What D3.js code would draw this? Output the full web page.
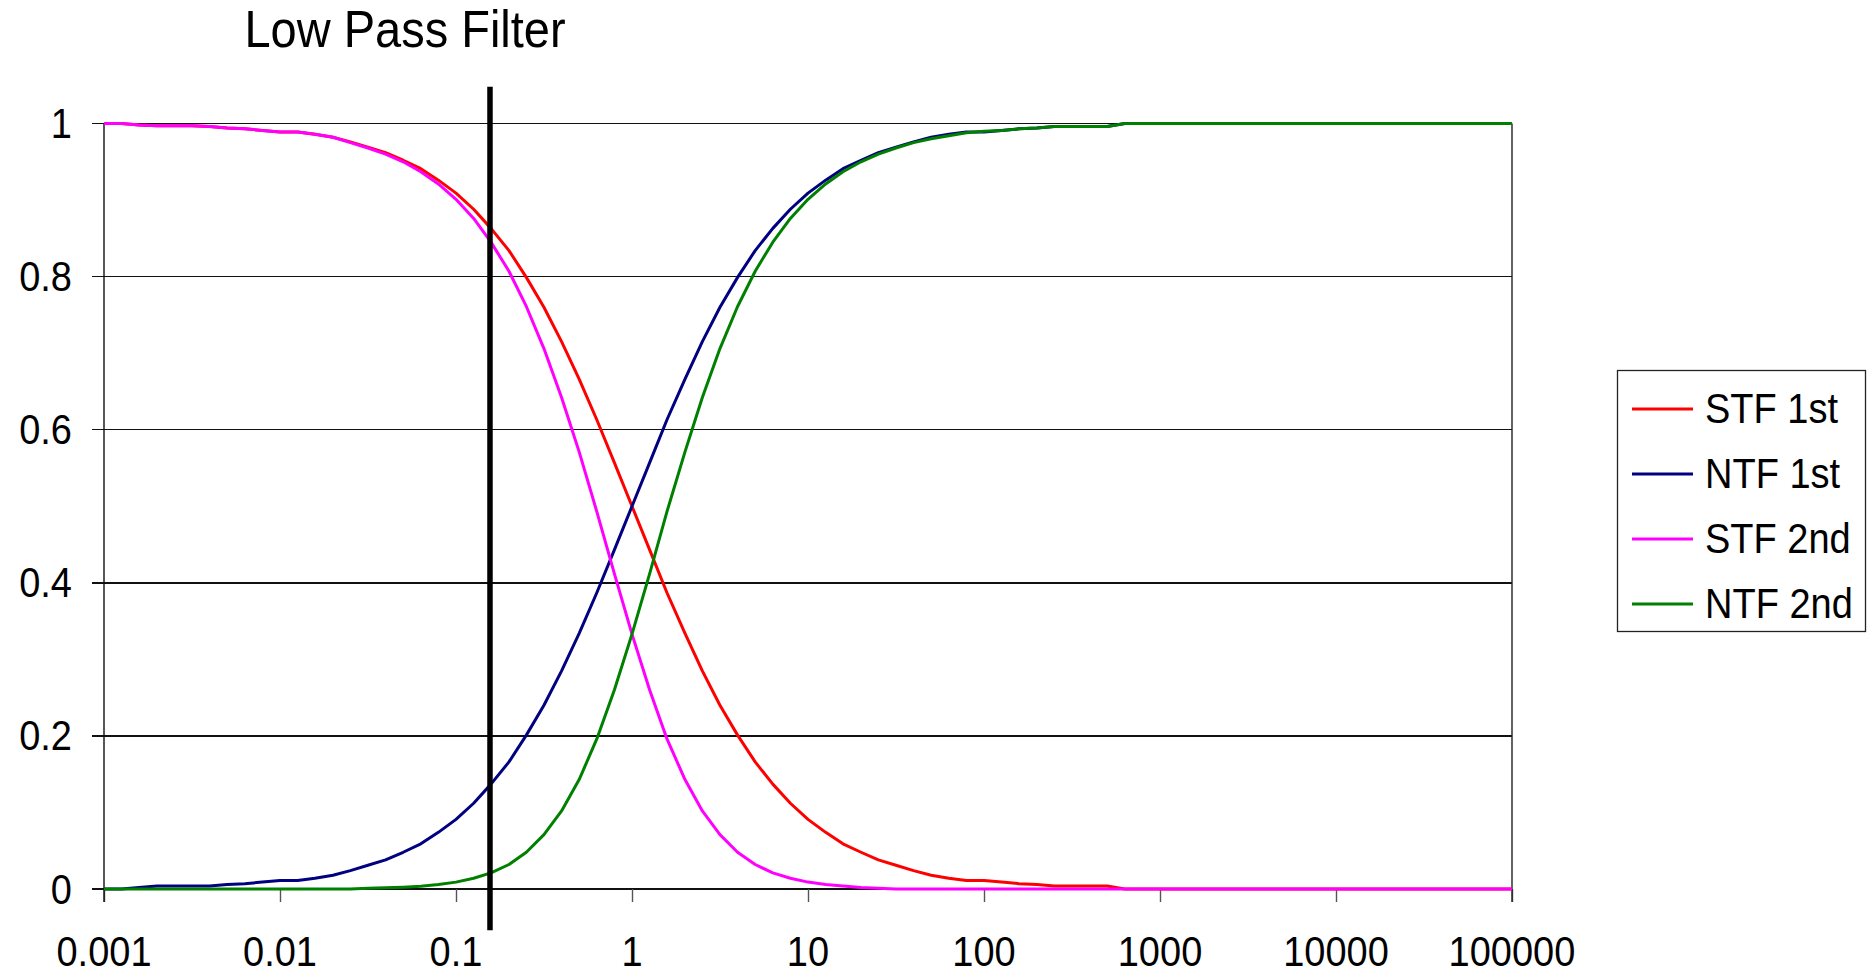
<!DOCTYPE html>
<html>
<head>
<meta charset="utf-8">
<script src="https://cdn.jsdelivr.net/npm/d3@7"></script>
<style>
  html, body { margin: 0; padding: 0; background: #fff; }
  svg { display: block; }
  text { font-family: "Liberation Sans", Arial, sans-serif; fill: #000; }
</style>
</head>
<body>
<svg id="chart" width="1868" height="973"></svg>
<script>
// ---------------- data ----------------
const chartTitle = "Low Pass Filter";
const seriesNames = ["STF 1st", "NTF 1st", "STF 2nd", "NTF 2nd"];
const seriesColors = ["#ff0000", "#000080", "#ff00ff", "#008000"];

const freq = [
  0.001, 0.00126, 0.00158, 0.002, 0.00251, 0.00316, 0.00398, 0.00501, 0.00631, 0.00794,
  0.01, 0.0126, 0.0158, 0.02, 0.0251, 0.0316, 0.0398, 0.0501, 0.0631, 0.0794,
  0.1, 0.126, 0.158, 0.2, 0.251, 0.316, 0.398, 0.501, 0.631, 0.794,
  1, 1.26, 1.58, 2, 2.51, 3.16, 3.98, 5.01, 6.31, 7.94,
  10, 12.6, 15.8, 20, 25.1, 31.6, 39.8, 50.1, 63.1, 79.4,
  100, 126, 158, 200, 251, 316, 398, 501, 631, 794,
  1000, 1260, 1580, 2000, 2510, 3160, 3980, 5010, 6310, 7940,
  10000, 12600, 15800, 20000, 25100, 31600, 39800, 50100, 63100, 79400,
  100000
];

const stf1st = [
  1.000, 1.000, 0.998, 0.997, 0.997, 0.997, 0.996, 0.994, 0.993, 0.991,
  0.989, 0.989, 0.986, 0.982, 0.976, 0.969, 0.962, 0.952, 0.941, 0.926,
  0.909, 0.888, 0.863, 0.834, 0.799, 0.760, 0.715, 0.666, 0.613, 0.557,
  0.500, 0.443, 0.387, 0.334, 0.285, 0.240, 0.201, 0.166, 0.137, 0.112,
  0.091, 0.074, 0.059, 0.048, 0.038, 0.031, 0.024, 0.018, 0.014, 0.011,
  0.011, 0.009, 0.007, 0.006, 0.004, 0.004, 0.004, 0.004, 0, 0,
  0, 0, 0, 0, 0, 0, 0, 0, 0, 0,
  0, 0, 0, 0, 0, 0, 0, 0, 0, 0,
  0
];

const ntf1st = [
  0, 0, 0.002, 0.004, 0.004, 0.004, 0.004, 0.006, 0.007, 0.009,
  0.011, 0.011, 0.014, 0.018, 0.024, 0.031, 0.038, 0.048, 0.059, 0.074,
  0.091, 0.112, 0.137, 0.166, 0.201, 0.240, 0.285, 0.334, 0.387, 0.443,
  0.500, 0.557, 0.613, 0.666, 0.715, 0.760, 0.799, 0.834, 0.863, 0.888,
  0.909, 0.926, 0.941, 0.952, 0.962, 0.969, 0.976, 0.982, 0.986, 0.989,
  0.989, 0.991, 0.993, 0.994, 0.996, 0.996, 0.996, 0.996, 1, 1,
  1, 1, 1, 1, 1, 1, 1, 1, 1, 1,
  1, 1, 1, 1, 1, 1, 1, 1, 1, 1,
  1
];

const stf2nd = [
  1.000, 1.000, 0.998, 0.997, 0.997, 0.997, 0.996, 0.994, 0.993, 0.991,
  0.989, 0.989, 0.986, 0.982, 0.975, 0.968, 0.960, 0.950, 0.937, 0.921,
  0.901, 0.876, 0.845, 0.807, 0.761, 0.706, 0.642, 0.571, 0.493, 0.412,
  0.333, 0.260, 0.196, 0.143, 0.102, 0.071, 0.048, 0.032, 0.021, 0.014,
  0.009, 0.006, 0.004, 0.002, 0.001, 0, 0, 0, 0, 0,
  0, 0, 0, 0, 0, 0, 0, 0, 0, 0,
  0, 0, 0, 0, 0, 0, 0, 0, 0, 0,
  0, 0, 0, 0, 0, 0, 0, 0, 0, 0,
  0
];

const ntf2nd = [
  0, 0, 0, 0, 0, 0, 0, 0, 0, 0,
  0, 0, 0, 0, 0, 0.001, 0.0015, 0.0024, 0.0037, 0.0058,
  0.009, 0.014, 0.021, 0.032, 0.048, 0.071, 0.102, 0.143, 0.196, 0.260,
  0.333, 0.412, 0.493, 0.571, 0.642, 0.706, 0.761, 0.807, 0.845, 0.876,
  0.901, 0.921, 0.937, 0.950, 0.960, 0.968, 0.975, 0.980, 0.984, 0.988,
  0.990, 0.991, 0.993, 0.994, 0.996, 0.996, 0.996, 0.996, 1, 1,
  1, 1, 1, 1, 1, 1, 1, 1, 1, 1,
  1, 1, 1, 1, 1, 1, 1, 1, 1, 1,
  1
];

const xTickValues = [0.001, 0.01, 0.1, 1, 10, 100, 1000, 10000, 100000];
const xTickLabels = ["0.001", "0.01", "0.1", "1", "10", "100", "1000", "10000", "100000"];
const yTickValues = [0, 0.2, 0.4, 0.6, 0.8, 1];
const yTickLabels = ["0", "0.2", "0.4", "0.6", "0.8", "1"];

// vertical "low pass filter" cutoff marker
const cutoffFreq = 0.156;
const cutoffExtent = [-0.054, 1.048];

// ---------------- layout ----------------
const plot = { left: 104, right: 1512, top: 123.5, bottom: 889 };
const svg = d3.select("#chart");

const x = d3.scaleLog().domain([0.001, 100000]).range([plot.left, plot.right]);
const y = d3.scaleLinear().domain([0, 1]).range([plot.bottom, plot.top]);

const stretch = 1.1;
function stretchedText(g, tx, ty, str, size, anchor) {
  return g.append("text")
    .attr("transform", `translate(${tx},${ty}) scale(1,${stretch})`)
    .attr("font-size", size)
    .attr("text-anchor", anchor)
    .text(str);
}

// gridlines (with small outward tick on the left)
svg.append("g").selectAll("line")
  .data(yTickValues)
  .join("line")
  .attr("x1", plot.left - 12)
  .attr("x2", plot.right)
  .attr("y1", d => y(d))
  .attr("y2", d => y(d))
  .attr("stroke", "#111")
  .attr("stroke-width", 1.4)
  .attr("shape-rendering", "crispEdges");

// x axis ticks
const xAxis = d3.axisBottom(x)
  .tickValues(xTickValues)
  .tickSize(13)
  .tickFormat("");
const xg = svg.append("g")
  .attr("transform", `translate(0,${plot.bottom})`)
  .call(xAxis);
xg.select(".domain").remove();
xg.selectAll(".tick line").attr("stroke", "#555").attr("stroke-width", 1.4);

// left axis line and right border
svg.append("line")
  .attr("x1", plot.left).attr("x2", plot.left)
  .attr("y1", plot.top).attr("y2", plot.bottom + 13)
  .attr("stroke", "#111").attr("stroke-width", 1.4);
svg.append("line")
  .attr("x1", plot.right).attr("x2", plot.right)
  .attr("y1", plot.top).attr("y2", plot.bottom + 13)
  .attr("stroke", "#222").attr("stroke-width", 1.4);

// x tick labels
const xl = svg.append("g");
xTickValues.forEach((v, i) => {
  stretchedText(xl, x(v), 966, xTickLabels[i], 38, "middle");
});

// y tick labels
const yl = svg.append("g");
yTickValues.forEach((v, i) => {
  stretchedText(yl, 72, y(v) + 14.5, yTickLabels[i], 38, "end");
});

// series lines
const allSeries = [stf1st, ntf1st, stf2nd, ntf2nd];
const lineGen = d3.line()
  .x(d => x(d[0]))
  .y(d => y(d[1]));

const lg = svg.append("g");
allSeries.forEach((vals, si) => {
  const pts = freq.map((f, i) => [f, vals[i]]);
  lg.append("path")
    .datum(pts)
    .attr("d", lineGen)
    .attr("fill", "none")
    .attr("stroke", seriesColors[si])
    .attr("stroke-width", 3)
    .attr("stroke-linejoin", "round");
});

// cutoff marker line
svg.append("line")
  .attr("x1", x(cutoffFreq)).attr("x2", x(cutoffFreq))
  .attr("y1", y(cutoffExtent[1])).attr("y2", y(cutoffExtent[0]))
  .attr("stroke", "#000")
  .attr("stroke-width", 5.5);

// title
stretchedText(svg, 405, 47, chartTitle, 47, "middle");

// legend
const legend = svg.append("g");
legend.append("rect")
  .attr("x", 1617.5).attr("y", 370.5)
  .attr("width", 248).attr("height", 261)
  .attr("fill", "#fff")
  .attr("stroke", "#222")
  .attr("stroke-width", 1.3);
seriesNames.forEach((name, i) => {
  const cy = 409 + i * 65;
  legend.append("line")
    .attr("x1", 1632).attr("x2", 1693)
    .attr("y1", cy).attr("y2", cy)
    .attr("stroke", seriesColors[i])
    .attr("stroke-width", 3);
  stretchedText(legend, 1705, cy + 14, name, 38, "start");
});
</script>
</body>
</html>
